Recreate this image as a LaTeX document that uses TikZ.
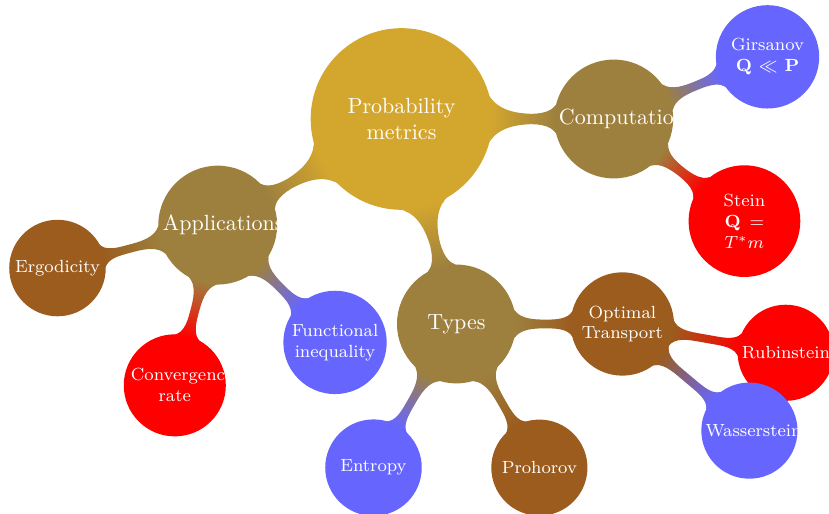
\documentclass[tikz,border=0pt]{standalone}
\usetikzlibrary{mindmap}
\definecolor{rootgold}{RGB}{211,166,46}
\definecolor{branchtan}{RGB}{157,128,62}
\definecolor{leafbrown}{RGB}{155,92,30}
\definecolor{leafblue}{RGB}{102,102,255}
\begin{document}
\begin{tikzpicture}[mindmap, text=white, concept color=rootgold,
  every concept/.append style={align=center, minimum size=0pt, inner sep=1pt},
  level 1 concept/.append style={font=\normalsize, text width=1.75cm},
  level 2 concept/.append style={font=\footnotesize, text width=1.4cm},
  level 3 concept/.append style={font=\footnotesize, text width=1.4cm},
  level 1/.append style={level distance=3.39cm},
  level 2/.append style={level distance=2.65cm},
  level 3/.append style={level distance=2.65cm}]
\useasboundingbox (-6.414,-6.310) rectangle (6.829,1.901);
\node[concept, font=\normalsize, text width=2.7cm, minimum size=0pt] (prob) {Probability metrics}
  child[concept color=branchtan, grow=0] {node[concept] (comp) {Computation}
    child[concept color=leafblue, grow=22] {node[concept] (girsanov) {Girsanov $\mathbf{Q}\ll\mathbf{P}$}}
    child[concept color=red, grow=-38] {node[concept] (stein) {Stein\\ $\mathbf{Q}=$\\ $T^*m$}}
  }
  child[concept color=branchtan, grow=210] {node[concept] (appl) {Applications}
    child[concept color=leafbrown, grow=195] {node[concept] (ergo) {Ergodicity}}
    child[concept color=red, grow=255] {node[concept] (conv) {Convergence rate}}
    child[concept color=leafblue, grow=315] {node[concept] (func) {Functional inequality}}
  }
  child[concept color=branchtan, grow=285] {node[concept] (types) {Types}
    child[concept color=leafblue, grow=240] {node[concept] (entropy) {Entropy}}
    child[concept color=leafbrown, grow=300] {node[concept] (prohorov) {Prohorov}}
    child[concept color=leafbrown, grow=0] {node[concept] (ot) {Optimal Transport}
      child[concept color=red, grow=-10] {node[concept] (rubinstein) {Rubinstein}}
      child[concept color=leafblue, grow=-40] {node[concept] (wasserstein) {Wasserstein}}
    }
  };
\end{tikzpicture}
\end{document}
